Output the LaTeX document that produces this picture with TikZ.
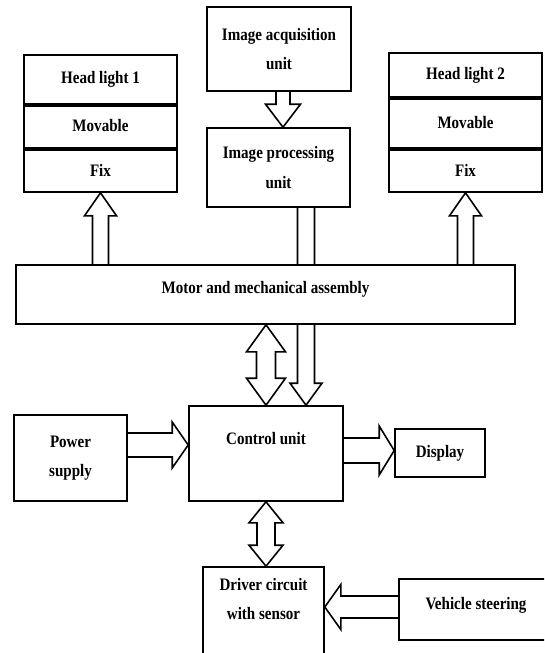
\documentclass[tikz,border=0pt]{standalone}
\usepackage{fontspec}
\setmainfont{Liberation Serif}[FakeStretch=0.86]
\usetikzlibrary{calc,backgrounds}
\newcommand{\myVarrow}[5]{%
  \draw[blk] let \p1=(#1), \p2=(#2), \n1={sign(\y2-\y1)} in
  ({\x1-#3},\y1) -- ({\x1-#3},{\y2-(\n1)*#5}) -- ({\x1-#4},{\y2-(\n1)*#5}) -- (\x1,\y2)
  -- ({\x1+#4},{\y2-(\n1)*#5}) -- ({\x1+#3},{\y2-(\n1)*#5}) -- ({\x1+#3},\y1);}
\newcommand{\myHarrow}[5]{%
  \draw[blk] let \p1=(#1), \p2=(#2), \n1={sign(\x2-\x1)} in
  (\x1,{\y1-#3}) -- ({\x2-(\n1)*#5},{\y1-#3}) -- ({\x2-(\n1)*#5},{\y1-#4}) -- (\x2,\y1)
  -- ({\x2-(\n1)*#5},{\y1+#4}) -- ({\x2-(\n1)*#5},{\y1+#3}) -- (\x1,{\y1+#3});}
\newcommand{\myVDarrow}[5]{%
  \draw[blk] let \p1=(#1), \p2=(#2), \n1={sign(\y2-\y1)} in
  (\x1,\y1) -- ({\x1-#4},{\y1+(\n1)*#5}) -- ({\x1-#3},{\y1+(\n1)*#5}) -- ({\x1-#3},{\y2-(\n1)*#5})
  -- ({\x1-#4},{\y2-(\n1)*#5}) -- (\x1,\y2) -- ({\x1+#4},{\y2-(\n1)*#5}) -- ({\x1+#3},{\y2-(\n1)*#5})
  -- ({\x1+#3},{\y1+(\n1)*#5}) -- ({\x1+#4},{\y1+(\n1)*#5}) -- cycle;}
\begin{document}
\begin{tikzpicture}[x=1pt,y=-1pt,
  txt/.style={font=\fontsize{17.5}{29.5}\selectfont\bfseries},
  box/.style={txt, draw, line width=1.6pt, fill=white, inner sep=0pt, align=center},
  divider/.style={line width=3.5pt},
  blk/.style={draw, line width=1.6pt, line join=miter}]
\useasboundingbox (0,0) rectangle (544,653);
\clip (0,0) rectangle (544,653);
% head light 1
\node[box, minimum width=153pt, minimum height=49pt] (hl1a) at (100.5,79.5) {Head light 1};
\node[box, minimum width=153pt, minimum height=44pt] (hl1b) at (100.5,126) {Movable};
\node[box, minimum width=153pt, minimum height=44pt] (hl1c) at (100.5,170) {Fix};
\draw[divider] (hl1a.south west) -- (hl1a.south east);
\draw[divider] (hl1b.south west) -- (hl1b.south east);
% head light 2
\node[box, minimum width=153pt, minimum height=44pt] (hl2a) at (465.5,75) {Head light 2};
\node[box, minimum width=153pt, minimum height=51pt] (hl2b) at (465.5,122.5) {Movable};
\node[box, minimum width=153pt, minimum height=44pt] (hl2c) at (465.5,170) {Fix};
\draw[divider] (hl2a.south west) -- (hl2a.south east);
\draw[divider] (hl2b.south west) -- (hl2b.south east);
% image units
\node[box, minimum width=144pt, minimum height=84pt] (ia) at (279,49) {Image acquisition\\unit};
\node[box, minimum width=143pt, minimum height=79pt] (ip) at (278.5,167.5) {Image processing\\unit};
% motor
\node[box, minimum width=499pt, minimum height=59pt] (mot) at (265.5,294.5) {};
\node[txt] (motT) at ($(mot.center)+(0,-5)$) {Motor and mechanical assembly};
% control row
\node[box, minimum width=154pt, minimum height=95pt] (cu) at (266,453.5) {Control unit\\\mbox{}};
\node[box, minimum width=113pt, minimum height=86pt] (ps) at (70.5,458) {Power\\supply};
\node[box, minimum width=90pt, minimum height=48pt] (ds) at (440,453) {Display};
% bottom row
\node[box, minimum width=121pt, minimum height=98pt, text depth=34pt] (dc) at (263.5,616) {Driver circuit\\with sensor};
\node[box, minimum width=161pt, minimum height=61pt] (vs) at (479.5,609.5) {};
\node[txt] (vsT) at (476,605) {Vehicle steering};
% connectors
\begin{scope}[on background layer]
\fill[white] (0,0) rectangle (544,653);
\myVarrow{mot.north -| hl1c.south}{hl1c.south}{8pt}{16pt}{23pt}
\myVarrow{mot.north -| hl2c.south}{hl2c.south}{8pt}{16pt}{23pt}
\myVarrow{[xshift=4pt]ia.south}{[xshift=4pt]ip.north}{7pt}{17.5pt}{23pt}
\myVarrow{[xshift=40pt]cu.north |- ip.south}{[xshift=40pt]cu.north}{8.5pt}{16pt}{22pt}
\myVDarrow{mot.south -| cu.north}{cu.north}{9.5pt}{19.5pt}{27pt}
\myHarrow{[yshift=13pt]ps.east}{[yshift=13pt]ps.east -| cu.west}{12pt}{23pt}{16pt}
\myHarrow{[yshift=2.5pt]ds.west -| cu.east}{[yshift=2.5pt]ds.west}{12.5pt}{24.5pt}{15pt}
\myHarrow{[yshift=2.5pt]vs.west}{[yshift=2.5pt]vs.west -| dc.east}{11pt}{22.5pt}{16pt}
\myVDarrow{cu.south}{dc.north -| cu.south}{9pt}{17pt}{21pt}
\end{scope}
\end{tikzpicture}
\end{document}
